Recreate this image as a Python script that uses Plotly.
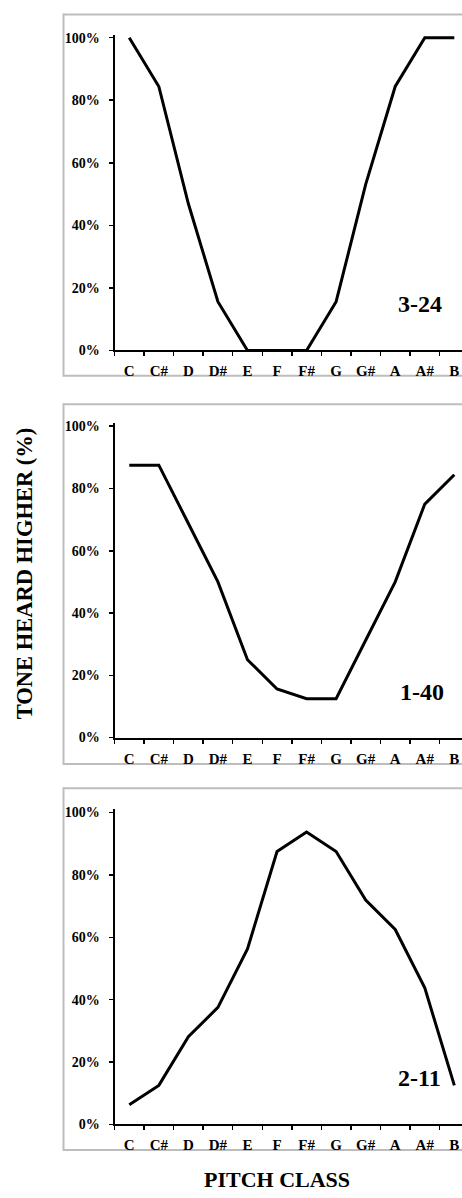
import plotly.graph_objects as go

W, H = 462, 1198

pitch_classes = ["C", "C#", "D", "D#", "E", "F", "F#", "G", "G#", "A", "A#", "B"]
set_3_24 = [100, 84.4, 46.9, 15.6, 0, 0, 0, 15.6, 53.1, 84.4, 100, 100]
set_1_40 = [87.5, 87.5, 68.75, 50, 25, 15.6, 12.5, 12.5, 31.25, 50, 75, 84.4]
set_2_11 = [6.25, 12.5, 28.1, 37.5, 56.25, 87.5, 93.75, 87.5, 71.9, 62.5, 43.75, 12.5]
panel_labels = ["3-24", "1-40", "2-11"]
y_ticks = [0, 20, 40, 60, 80, 100]
y_tick_text = [f"{v}%" for v in y_ticks]

series = [set_3_24, set_1_40, set_2_11]

# pixel geometry (y pixel of 0% and 100%, border top/bottom)
y0_px = [350.0, 741.0, 1131.7]
y100_px = [34.0, 426.5, 816.7]
border_px = [(10.7, 375.5), (404.3, 767.7), (792.3, 1157.7)]
label_px = [(420, 302.7), (421.5, 695), (419, 1085)]
axis_x_px = 114.5
cat_w = 29.55
x_hi = -0.5 + (W - axis_x_px) / cat_w

FONT = "Liberation Serif"

fig = go.Figure()
for i, vals in enumerate(series):
    n = "" if i == 0 else str(i + 1)
    fig.add_trace(go.Scatter(
        x=pitch_classes, y=vals, mode="lines",
        line=dict(color="black", width=3),
        xaxis="x" + n, yaxis="y" + n, showlegend=False, hoverinfo="skip"))
    scale = (y0_px[i] - y100_px[i]) / 100.0
    top_px = y100_px[i] - 1.0 * scale
    fig.layout["yaxis" + n] = dict(
        domain=[1 - y0_px[i] / H, 1 - top_px / H],
        range=[0, 101], tickvals=y_ticks, ticktext=y_tick_text,
        showgrid=False, zeroline=False, showline=True, linecolor="black", linewidth=2,
        ticks="outside", ticklen=4, tickwidth=1.5, tickcolor="black",
        ticklabelstandoff=6,
        tickfont=dict(family=FONT, size=14, color="black", weight="bold"),
        anchor="x" + n, fixedrange=True)
    fig.layout["xaxis" + n] = dict(
        domain=[axis_x_px / W, 1], type="category",
        categoryorder="array", categoryarray=pitch_classes,
        range=[-0.5, x_hi], tickson="boundaries",
        showgrid=False, zeroline=False, showline=True, linecolor="black", linewidth=2,
        ticks="outside", ticklen=4, tickwidth=1.5, tickcolor="black",
        ticklabelstandoff=6,
        tickfont=dict(family=FONT, size=15, color="black", weight="bold"),
        anchor="y" + n, fixedrange=True)
    bt, bb = border_px[i]
    fig.add_shape(type="rect", xref="paper", yref="paper",
                  x0=63.5 / W, x1=1.05, y0=1 - bb / H, y1=1 - bt / H,
                  line=dict(color="#bdbdbd", width=2), fillcolor="rgba(0,0,0,0)", layer="below")
    lx, ly = label_px[i]
    fig.add_annotation(text=panel_labels[i], xref="paper", yref="paper",
                       x=lx / W, y=1 - ly / H, xanchor="center", yanchor="middle",
                       showarrow=False,
                       font=dict(family=FONT, size=24, color="black", weight="bold"))

fig.add_annotation(text="TONE HEARD HIGHER (%)", xref="paper", yref="paper",
                   x=24 / W, y=1 - 575 / H, textangle=-90, showarrow=False,
                   xanchor="center", yanchor="middle",
                   font=dict(family=FONT, size=22.5, color="black", weight="bold"))
fig.add_annotation(text="PITCH CLASS", xref="paper", yref="paper",
                   x=276.5 / W, y=1 - 1187.5 / H, showarrow=False,
                   xanchor="center", yanchor="middle",
                   font=dict(family=FONT, size=22, color="black", weight="bold"))

fig.update_layout(width=W, height=H, margin=dict(l=0, r=0, t=0, b=0),
                  paper_bgcolor="white", plot_bgcolor="white")
fig.write_html("out.html", config={"displayModeBar": False, "staticPlot": True},
               post_script="document.body.style.margin='0';document.body.style.overflow='hidden';")
